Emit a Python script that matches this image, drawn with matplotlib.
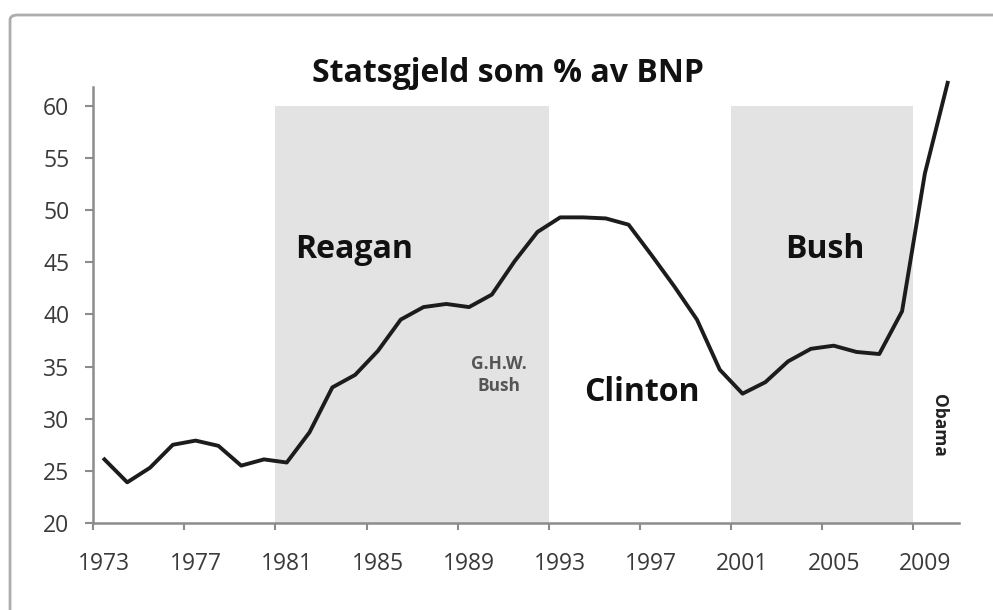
import matplotlib
matplotlib.use("Agg")
import matplotlib.pyplot as plt
from matplotlib.patches import FancyBboxPatch

plt.rcParams["font.family"] = ["Open Sans", "DejaVu Sans"]

# Statsgjeld (% av BNP), ett tall per år
years = list(range(1973, 2011))
debt = [26.1, 23.9, 25.3, 27.5, 27.9, 27.4, 25.5, 26.1, 25.8, 28.7,
        33.0, 34.2, 36.5, 39.5, 40.7, 41.0, 40.7, 41.9, 45.1, 47.9,
        49.3, 49.3, 49.2, 48.6, 45.7, 42.7, 39.5, 34.7, 32.4, 33.5,
        35.5, 36.7, 37.0, 36.4, 36.2, 40.3, 53.5, 62.2]

# presidentperioder som skyggelegges (fra, til)
shaded = [(1981, 1992), (2001, 2008)]
year_labels = [1973, 1977, 1981, 1985, 1989, 1993, 1997, 2001, 2005, 2009]
y_ticks = [20, 25, 30, 35, 40, 45, 50, 55, 60]

fig = plt.figure(figsize=(9.93, 6.10), dpi=100)
ax = fig.add_axes([0.0937, 0.1426, 0.8721, 0.7148])

# ramme rundt hele figuren
frame = FancyBboxPatch((0.0101, -0.05), 1.05, 0.9754 + 0.05,
                       boxstyle="round,pad=0,rounding_size=0.008",
                       transform=fig.transFigure, facecolor="none",
                       edgecolor="#adadad", linewidth=2.0)
fig.add_artist(frame)

for start, end in shaded:
    ax.axvspan(start - 0.5, end + 0.5, ymin=0, ymax=(60 - 20) / (61.8 - 20),
               color="#e3e3e3", lw=0, zorder=0)

ax.plot(years, debt, color="#1c1c1c", lw=2.8, solid_joinstyle="round",
        clip_on=False, zorder=3)

ax.set_xlim(1972.5, 2010.5)
ax.set_ylim(20, 61.8)

# ticks mellom kategoriene, årstall midt i kategorien
ax.set_xticks([y - 0.5 for y in year_labels])
ax.set_xticklabels([])
ax.set_xticks(year_labels, minor=True)
ax.set_xticklabels([str(y) for y in year_labels], minor=True)
ax.tick_params(axis="x", which="major", direction="out", length=5,
               width=1.5, color="#8c8c8c")
ax.tick_params(axis="x", which="minor", length=0, pad=21,
               labelsize=16.5, labelcolor="#3a3a3a")
ax.set_yticks(y_ticks)
ax.tick_params(axis="y", direction="out", length=6, width=1.5,
               color="#8c8c8c", pad=11, labelsize=16.5, labelcolor="#3a3a3a")

for side in ["top", "right"]:
    ax.spines[side].set_visible(False)
for side in ["left", "bottom"]:
    ax.spines[side].set_color("#8c8c8c")
    ax.spines[side].set_linewidth(1.8)

fig.text(0.512, 0.88, "Statsgjeld som % av BNP", ha="center", va="center",
         fontsize=23, fontweight="bold", color="#111111")

ax.text(1983.95, 46.2, "Reagan", ha="center", va="center", fontsize=23,
        fontweight="bold", color="#111111")
ax.text(2004.6, 46.2, "Bush", ha="center", va="center", fontsize=23,
        fontweight="bold", color="#111111")
ax.text(1996.6, 32.5, "Clinton", ha="center", va="center", fontsize=23,
        fontweight="bold", color="#111111")
ax.text(1990.3, 34.2, "G.H.W.\nBush", ha="center", va="center", fontsize=12.5,
        fontweight="bold", color="#555555", linespacing=1.25)
ax.text(2009.6, 29.4, "Obama", ha="center", va="center", fontsize=12.5,
        fontweight="bold", color="#222222", rotation=270)

fig.savefig("out.png", dpi=100)
